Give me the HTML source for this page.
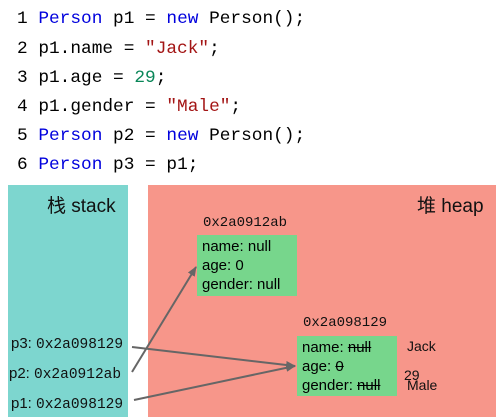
<html><head><style>
body{margin:0;width:499px;height:420px;background:#fff;position:relative;overflow:hidden;font-family:"Liberation Sans","Noto Sans CJK SC",sans-serif}
.c{position:absolute;left:17px;font:17.8px "Liberation Mono",monospace;color:#000;white-space:pre}
.k{color:#0000dd}.s{color:#a31515}.n{color:#098658}
.a{position:absolute;font-size:15px;color:#111;white-space:pre}
.m{font-family:"Liberation Mono",monospace}
.g{position:absolute;background:#77d68c;font-size:15px;line-height:19px;padding:2px 5px;box-sizing:border-box}
</style></head><body>
<div class="c" style="top:9px">1 <span class="k">Person</span> p1 = <span class="k">new</span> Person();</div>
<div class="c" style="top:39px">2 p1.name = <span class="s">"Jack"</span>;</div>
<div class="c" style="top:68px">3 p1.age = <span class="n">29</span>;</div>
<div class="c" style="top:97px">4 p1.gender = <span class="s">"Male"</span>;</div>
<div class="c" style="top:126px">5 <span class="k">Person</span> p2 = <span class="k">new</span> Person();</div>
<div class="c" style="top:155px">6 <span class="k">Person</span> p3 = p1;</div>
<div style="position:absolute;left:8px;top:185px;width:120px;height:232px;background:#7dd6cf"></div>
<div style="position:absolute;left:148px;top:185px;width:348px;height:232px;background:#f7968a"></div>
<div class="a" style="left:47px;top:191px;font-size:19px">栈 stack</div>
<div class="a" style="left:417px;top:191px;font-size:19px">堆 heap</div>
<div class="a" style="left:11px;top:335px">p3: <span class="m" style="font-size:14.5px">0x2a098129</span></div>
<div class="a" style="left:9px;top:365px">p2: <span class="m" style="font-size:14.5px">0x2a0912ab</span></div>
<div class="a" style="left:11px;top:395px">p1: <span class="m" style="font-size:14.5px">0x2a098129</span></div>
<div class="a m" style="left:203px;top:215px;font-size:14px">0x2a0912ab</div>
<div class="g" style="left:197px;top:235px;width:100px;height:61px">name: null<br>age: 0<br>gender: null</div>
<div class="a m" style="left:303px;top:315px;font-size:14px">0x2a098129</div>
<div class="g" style="left:297px;top:336px;width:100px;height:60px">name: <s>null</s><br>age: <s>0</s><br>gender: <s>null</s></div>
<div class="a" style="left:407px;top:338px;font-size:14px">Jack</div>
<div class="a" style="left:404px;top:367px;font-size:14px">29</div>
<div class="a" style="left:407px;top:377px;font-size:14px">Male</div>
<svg width="499" height="420" style="position:absolute;left:0;top:0">
<defs><marker id="h" markerWidth="10" markerHeight="8" refX="9" refY="4" orient="auto" markerUnits="userSpaceOnUse"><path d="M0,0L10,4L0,8z" fill="#666"/></marker></defs>
<g stroke="#666" stroke-width="2" fill="none" marker-end="url(#h)">
<line x1="132" y1="347" x2="295" y2="366"/>
<line x1="132" y1="372" x2="196" y2="267"/>
<line x1="134" y1="400" x2="295" y2="366"/>
</g></svg>
</body></html>
